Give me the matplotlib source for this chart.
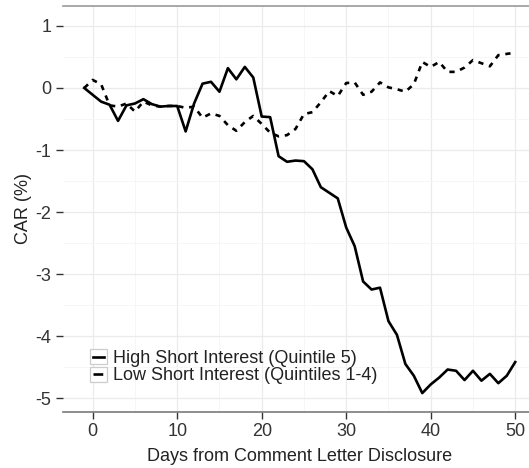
import matplotlib
matplotlib.use('Agg')
import matplotlib.pyplot as plt
from matplotlib.legend_handler import HandlerLine2D
from matplotlib.patches import Rectangle
from matplotlib.lines import Line2D
import numpy as np

plt.rcParams['font.family'] = ['Liberation Sans', 'DejaVu Sans']

days = list(range(-1, 51))

high_si = [0.0, -0.11, -0.22, -0.27, -0.53, -0.28, -0.25, -0.18, -0.26, -0.30,
           -0.29, -0.29, -0.70, -0.25, 0.07, 0.10, -0.06, 0.32, 0.14, 0.34,
           0.17, -0.46, -0.47, -1.10, -1.19, -1.17, -1.18, -1.31, -1.60, -1.69,
           -1.78, -2.25, -2.55, -3.12, -3.25, -3.22, -3.76, -3.98, -4.45, -4.64,
           -4.92, -4.78, -4.67, -4.54, -4.56, -4.71, -4.56, -4.72, -4.61, -4.76,
           -4.64, -4.42]

low_si = [0.0, 0.13, 0.06, -0.28, -0.30, -0.25, -0.38, -0.22, -0.28, -0.30,
          -0.29, -0.29, -0.32, -0.30, -0.48, -0.41, -0.45, -0.60, -0.69, -0.55,
          -0.45, -0.58, -0.72, -0.78, -0.76, -0.66, -0.42, -0.39, -0.23, -0.05,
          -0.13, 0.08, 0.09, -0.11, -0.06, 0.09, 0.01, -0.02, -0.06, 0.06,
          0.42, 0.34, 0.42, 0.26, 0.26, 0.33, 0.45, 0.40, 0.35, 0.53,
          0.55, 0.57]

labels = ['High Short Interest (Quintile 5)', 'Low Short Interest (Quintiles 1-4)']


class KeyHandler(HandlerLine2D):
    # ggplot-like legend key: grey-bordered box with a short line inside
    def create_artists(self, legend, orig_handle, xdescent, ydescent,
                       width, height, fontsize, trans):
        box = Rectangle((-xdescent, -ydescent), width, height, facecolor='white',
                        edgecolor='#CCCCCC', lw=0.9, transform=trans)
        y = -ydescent + height / 2
        ln = Line2D([-xdescent + width * 0.2, -xdescent + width * 0.8], [y, y],
                    color=orig_handle.get_color(), lw=orig_handle.get_linewidth(),
                    linestyle=orig_handle.get_linestyle(), transform=trans)
        return [box, ln]


fig = plt.figure(figsize=(5.29, 4.68), dpi=100)
ax = fig.add_axes([0.1185, 0.1203, 0.8962, 0.8675])

l1, = ax.plot(days, high_si, color='black', lw=1.9, solid_joinstyle='round',
              label=labels[0])
l2, = ax.plot(days, low_si, color='black', lw=1.9, linestyle=(0, (2.0, 2.2)),
              label=labels[1])

ax.set_xticks([0, 10, 20, 30, 40, 50])
ax.set_yticks([1, 0, -1, -2, -3, -4, -5])
ax.set_xticks(np.arange(5, 55, 10), minor=True)
ax.set_yticks(np.arange(-4.5, 1.5, 1.0), minor=True)
ax.set_xlim(-3.55, 52.55)
ax.set_ylim(-5.22, 1.327)
ax.grid(which='major', color='#EBEBEB', lw=0.9)
ax.grid(which='minor', color='#F5F5F5', lw=0.6)
ax.set_axisbelow(True)

for s in ['left', 'right']:
    ax.spines[s].set_visible(False)
ax.spines['top'].set_color('#9A9A9A')
ax.spines['top'].set_linewidth(1.2)
ax.spines['bottom'].set_color('#7A7A7A')
ax.spines['bottom'].set_linewidth(1.2)

ax.tick_params(axis='both', which='major', labelsize=13, colors='#333333',
               length=5, width=1, pad=3)
ax.tick_params(axis='both', which='minor', length=0)
ax.set_yticklabels(['1', '0', '-1', '-2', '-3', '-4', '-5'])

ax.set_xlabel('Days from Comment Letter Disclosure', fontsize=13, color='#222222')
ax.set_ylabel('CAR (%)', fontsize=13, color='#222222')
ax.xaxis.set_label_coords(0.5, -0.089)
ax.yaxis.set_label_coords(-0.065, 0.5)

ax.legend(handles=[l1, l2], loc='upper left', bbox_to_anchor=(0.0576, 0.1544),
          frameon=False, fontsize=13, handlelength=0.95, handleheight=0.9,
          handletextpad=0.3, labelspacing=0.0, borderpad=0, borderaxespad=0,
          handler_map={Line2D: KeyHandler()}, labelcolor='#222222')

fig.savefig('out.png', dpi=100)
